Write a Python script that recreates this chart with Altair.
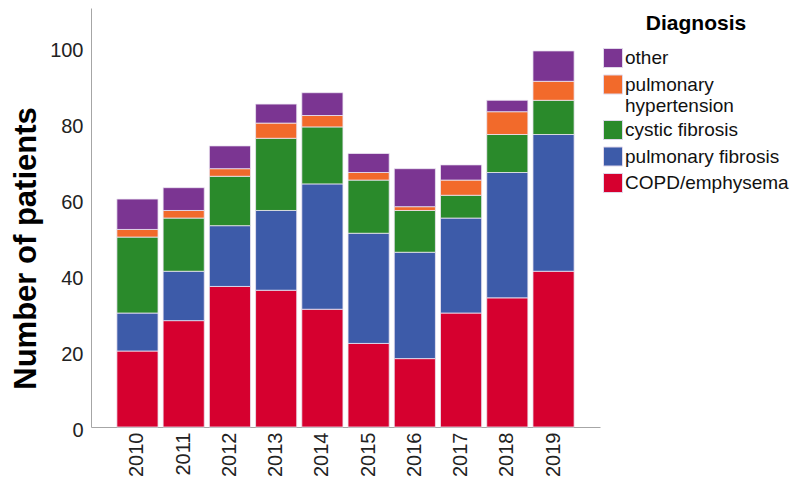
import altair as alt
import pandas as pd

years = [str(y) for y in range(2010, 2020)]
copd = [20, 28, 37, 36, 31, 22, 18, 30, 34, 41]
pulm_fibrosis = [10, 13, 16, 21, 33, 29, 28, 25, 33, 36]
cystic_fibrosis = [20, 14, 13, 19, 15, 14, 11, 6, 10, 9]
pulm_hypertension = [2, 2, 2, 4, 3, 2, 1, 4, 6, 5]
other = [8, 6, 6, 5, 6, 5, 10, 4, 3, 8]

legend_order = ["other", "pulmonary hypertension", "cystic fibrosis",
                "pulmonary fibrosis", "COPD/emphysema"]
colors = ["#7B3592", "#F26A2B", "#2A8A2B", "#3D5BA9", "#D6002F"]
stack_order = ["COPD/emphysema", "pulmonary fibrosis", "cystic fibrosis",
               "pulmonary hypertension", "other"]
series = {
    "COPD/emphysema": copd,
    "pulmonary fibrosis": pulm_fibrosis,
    "cystic fibrosis": cystic_fibrosis,
    "pulmonary hypertension": pulm_hypertension,
    "other": other,
}

rows = []
for i, y in enumerate(years):
    for k, d in enumerate(stack_order):
        rows.append({"year": y, "diagnosis": d, "count": series[d][i], "ord": k})
df = pd.DataFrame(rows)

FONT = "Liberation Sans"

chart = alt.Chart(df).mark_bar(stroke="#ece6f2", strokeWidth=0.8).encode(
    x=alt.X("year:N", title=None,
            scale=alt.Scale(paddingInner=0.11, paddingOuter=0.56),
            axis=alt.Axis(labelAngle=-90, labelFontSize=20, ticks=False, labelPadding=5,
                          domainColor="#a6a6a6", labelColor="#222222", labelFont=FONT)),
    y=alt.Y("count:Q", stack="zero", title="Number of patients",
            scale=alt.Scale(domain=[0, 110.3], nice=False),
            axis=alt.Axis(values=[0, 20, 40, 60, 80, 100], grid=False, ticks=False,
                          labelFontSize=20, labelPadding=8, labelOffset=3,
                          labelColor="#222222", labelFont=FONT,
                          titleFontSize=31, titleFontWeight="bold", titleFont=FONT,
                          titleColor="#000000", titleX=-65, titleY=240,
                          titleBaseline="middle", domainColor="#a6a6a6")),
    color=alt.Color("diagnosis:N",
                    scale=alt.Scale(domain=legend_order, range=colors),
                    legend=alt.Legend(
                        title="Diagnosis", orient="none", legendX=512, legendY=5,
                        titleFontSize=21, titleFontWeight="bold", titleFont=FONT,
                        titleColor="#000000", titleAnchor="middle", titlePadding=14,
                        labelFontSize=19, labelFont=FONT, labelColor="#111111",
                        symbolType="square", symbolSize=361,
                        symbolStrokeColor="#e0d8ea", symbolStrokeWidth=1,
                        labelOffset=2, rowPadding=2.5, labelLimit=300, padding=0,
                        labelExpr="datum.label == 'pulmonary hypertension' ? ['pulmonary', 'hypertension'] : datum.label")),
    order=alt.Order("ord:Q", sort="ascending"),
).properties(
    width=509, height=419,
    autosize=alt.AutoSizeParams(type="none"),
    padding={"left": 83, "top": 0, "right": 192, "bottom": 55},
).configure_view(stroke=None)

chart.save("out.html", embed_options={"renderer": "svg", "actions": False})
